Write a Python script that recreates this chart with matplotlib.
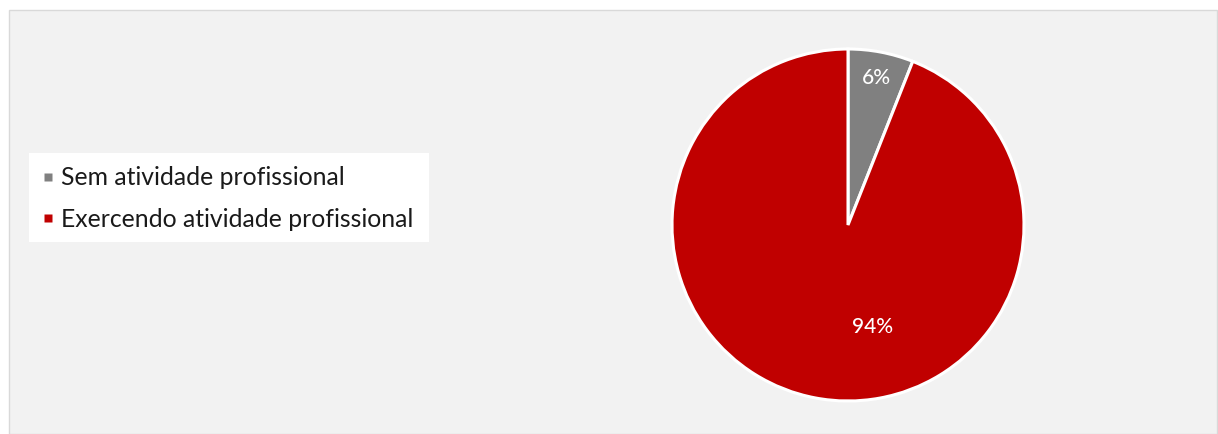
import matplotlib.pyplot as plt
from matplotlib.patches import Rectangle
from matplotlib.lines import Line2D
import numpy as np

# situação profissional dos respondentes
labels = ['Sem atividade profissional', 'Exercendo atividade profissional']
values = [6, 94]
colors = ['#808080', '#c00000']

plt.rcParams['font.family'] = ['Lato', 'DejaVu Sans']

W, H = 1218, 434
fig = plt.figure(figsize=(W / 100, H / 100), dpi=100)
fig.patch.set_facecolor('white')

# painel cinza do gráfico
fig.patches.append(Rectangle((9 / W, 0), (W - 10) / W, (H - 10) / H,
                             transform=fig.transFigure, facecolor='#f2f2f2',
                             edgecolor='#d9d9d9', linewidth=1, zorder=-2))

cx, cy, r = 848, H - 225, 176
ax = fig.add_axes([(cx - r) / W, (cy - r) / H, 2 * r / W, 2 * r / H])
ax.set_zorder(3)
ax.set_facecolor('none')

wedges, _ = ax.pie(values, colors=colors, startangle=90, counterclock=False,
                   wedgeprops=dict(edgecolor='white', linewidth=2.2),
                   radius=1)
ax.set_xlim(-1.0, 1.0)
ax.set_ylim(-1.0, 1.0)
ax.set_aspect('equal')

# rótulos de percentagem
mid = np.deg2rad(90 - values[0] / 2 * 3.6)
ax.text(0.85 * np.cos(mid), 0.85 * np.sin(mid), f'{values[0]}%',
        ha='center', va='center', color='white', fontsize=15, weight='medium')
ax.text(0.14, -0.58, f'{values[1]}%', ha='center', va='center',
        color='white', fontsize=15, weight='medium')

# legenda
fig.patches.append(Rectangle((29 / W, (H - 242) / H), 400 / W, 89 / H,
                             transform=fig.transFigure, facecolor='white',
                             edgecolor='none', zorder=-1))
handles = [Line2D([], [], marker='s', linestyle='none', markersize=6,
                  markerfacecolor=c, markeredgecolor='none') for c in colors]
leg = fig.legend(handles, labels, loc='center left',
                 bbox_to_anchor=(28 / W, (H - 198.5) / H), frameon=False,
                 fontsize=17.8, handlelength=0.6, handletextpad=0.25,
                 labelspacing=0.75, borderpad=0)
for t in leg.get_texts():
    t.set_color('#1a1a1a')

fig.savefig('out.png', dpi=100, facecolor=fig.get_facecolor())
